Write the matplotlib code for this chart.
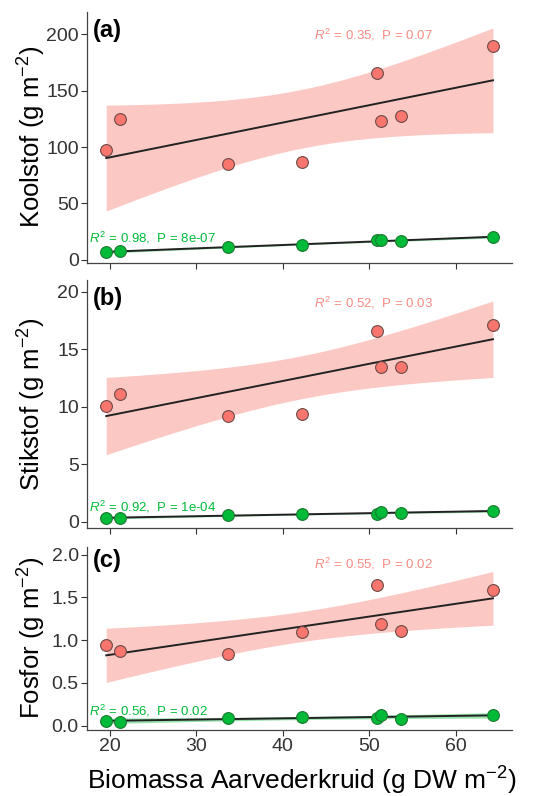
import numpy as np
import matplotlib
matplotlib.use('Agg')
import matplotlib.pyplot as plt

plt.rcParams['font.family'] = ['Liberation Sans', 'DejaVu Sans']
plt.rcParams['mathtext.fontset'] = 'custom'
plt.rcParams['mathtext.rm'] = 'Liberation Sans'
plt.rcParams['mathtext.it'] = 'Liberation Sans:italic'
plt.rcParams['axes.unicode_minus'] = False

# Biomass of yarrow (x), same for every panel
biomassa = [19.6, 21.15, 33.7, 42.2, 50.9, 51.4, 53.7, 64.3]

# panel (a) carbon
c_rood = [97, 124.5, 85, 86.6, 166, 123, 128, 190]
c_groen = [6.9, 7.5, 11, 12.8, 17, 17.6, 16.4, 20]
# panel (b) nitrogen
n_rood = [10.1, 11.1, 9.2, 9.4, 16.6, 13.5, 13.5, 17.1]
n_groen = [0.35, 0.35, 0.58, 0.72, 0.7, 0.9, 0.78, 0.92]
# panel (c) phosphorus
p_rood = [0.94, 0.87, 0.84, 1.09, 1.64, 1.19, 1.11, 1.58]
p_groen = [0.06, 0.04, 0.09, 0.105, 0.086, 0.13, 0.078, 0.12]

stats_rood = ['0.35,  P = 0.07', '0.52,  P = 0.03', '0.55,  P = 0.02']
stats_groen = ['0.98,  P = 8e-07', '0.92,  P = 1e-04', '0.56,  P = 0.02']
ylabels = ['Koolstof (g m$^{\\mathrm{-2}}$)', 'Stikstof (g m$^{\\mathrm{-2}}$)',
           'Fosfor (g m$^{\\mathrm{-2}}$)']
panel_labels = ['(a)', '(b)', '(c)']
yticks = [[0, 50, 100, 150, 200], [0, 5, 10, 15, 20], [0.0, 0.5, 1.0, 1.5, 2.0]]
ytick_labels = [['0', '50', '100', '150', '200'], ['0', '5', '10', '15', '20'],
                ['0.0', '0.5', '1.0', '1.5', '2.0']]
ylims = [(-2.7, 220), (-0.5, 21), (-0.05, 2.09)]

RED = '#F8766D'
GREEN = '#00BA38'
T_CRIT = 2.447  # t(0.975, df=6)


def fit_line(x, y):
    x = np.asarray(x)
    y = np.asarray(y)
    b, a = np.polyfit(x, y, 1)
    xs = np.linspace(x.min(), x.max(), 80)
    ys = a + b * xs
    resid = y - (a + b * x)
    s = np.sqrt(np.sum(resid ** 2) / (len(x) - 2))
    se = s * np.sqrt(1 / len(x) + (xs - x.mean()) ** 2 / np.sum((x - x.mean()) ** 2))
    return xs, ys, ys - T_CRIT * se, ys + T_CRIT * se


fig = plt.figure(figsize=(5.35, 7.96), dpi=100)
rects = [[0.163, 0.670, 0.794, 0.315],
         [0.163, 0.337, 0.794, 0.311],
         [0.163, 0.083, 0.794, 0.230]]

data = [(c_rood, c_groen), (n_rood, n_groen), (p_rood, p_groen)]
label_y_red = [200, 19.0, 1.89]
label_y_green = [19, 1.3, 0.175]

for i, (rood, groen) in enumerate(data):
    ax = fig.add_axes(rects[i])
    for yy, col in [(rood, RED), (groen, GREEN)]:
        xs, ys, lo, hi = fit_line(biomassa, yy)
        ax.fill_between(xs, lo, hi, color=col, alpha=0.4, linewidth=0, zorder=1)
        ax.plot(xs, ys, color='#222222', lw=1.4, zorder=2)
    ax.scatter(biomassa, rood, s=72, color=RED, edgecolor='#6b4a48', lw=0.8, zorder=3)
    ax.scatter(biomassa, groen, s=72, color=GREEN, edgecolor='#1c7a30', lw=0.8, zorder=3)

    ax.text(43.6, label_y_red[i], '$R^2$ = ' + stats_rood[i], color=RED, fontsize=9.5,
            ha='left', va='center', alpha=0.85)
    ax.text(17.6, label_y_green[i], '$R^2$ = ' + stats_groen[i], color=GREEN, fontsize=9.5,
            ha='left', va='center')
    ax.text(0.014, 0.925, panel_labels[i], transform=ax.transAxes, fontsize=17,
            fontweight='bold', ha='left', va='center')

    ax.set_xlim(17.4, 66.5)
    ax.set_ylim(*ylims[i])
    ax.set_xticks([20, 30, 40, 50, 60])
    ax.set_yticks(yticks[i])
    ax.set_yticklabels(ytick_labels[i])
    ax.set_ylabel(ylabels[i], fontsize=18.5)
    ax.yaxis.set_label_coords(-0.092, 0.5)
    ax.tick_params(axis='both', labelsize=14, colors='#333333', length=4, width=0.8,
                   labelcolor='#333333', pad=2)
    for sp in ['top', 'right']:
        ax.spines[sp].set_visible(False)
    for sp in ['left', 'bottom']:
        ax.spines[sp].set_color('#444444')
        ax.spines[sp].set_linewidth(0.9)
    if i < 2:
        ax.set_xticklabels([])
    else:
        ax.set_xlabel('Biomassa Aarvederkruid (g DW m$^{\\mathrm{-2}}$)', fontsize=19)
        ax.xaxis.set_label_coords(0.506, -0.19)

fig.savefig('out.png', dpi=100)
